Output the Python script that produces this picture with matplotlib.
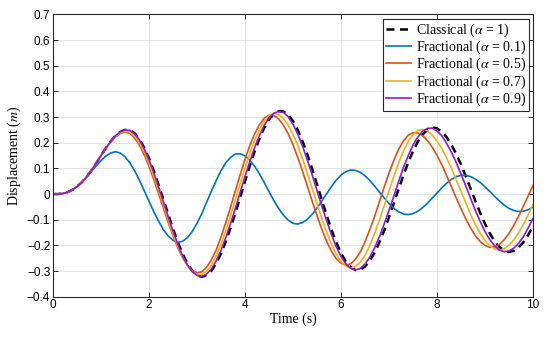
import numpy as np
import matplotlib
matplotlib.use('Agg')
import matplotlib.pyplot as plt

plt.rcParams['mathtext.fontset'] = 'stix'

# sample times (s)
t = np.linspace(0, 10, 101)

classical = [0.000, 0.000, 0.002, 0.007, 0.016, 0.029, 0.046, 0.067, 0.092, 0.120,
             0.150, 0.179, 0.205, 0.227, 0.242, 0.250, 0.249, 0.237, 0.214, 0.180,
             0.139, 0.090, 0.035, -0.022, -0.079, -0.136, -0.187, -0.234, -0.271, -0.299,
             -0.316, -0.323, -0.316, -0.299, -0.270, -0.232, -0.185, -0.131, -0.073, -0.012,
             0.050, 0.110, 0.166, 0.215, 0.258, 0.290, 0.312, 0.323, 0.322, 0.309,
             0.284, 0.249, 0.205, 0.154, 0.098, 0.038, -0.023, -0.082, -0.138, -0.188,
             -0.230, -0.263, -0.285, -0.296, -0.295, -0.283, -0.260, -0.228, -0.188, -0.142,
             -0.090, -0.036, 0.019, 0.073, 0.123, 0.167, 0.204, 0.232, 0.250, 0.259,
             0.256, 0.243, 0.222, 0.192, 0.156, 0.115, 0.069, 0.021, -0.027, -0.073,
             -0.116, -0.153, -0.184, -0.206, -0.221, -0.226, -0.221, -0.208, -0.188, -0.160,
             -0.125]

frac_01 = [0.000, 0.000, 0.002, 0.007, 0.016, 0.029, 0.046, 0.066, 0.088, 0.110,
           0.130, 0.148, 0.160, 0.165, 0.160, 0.145, 0.122, 0.091, 0.054, 0.013,
           -0.028, -0.069, -0.106, -0.139, -0.164, -0.180, -0.188, -0.184, -0.170, -0.146,
           -0.114, -0.076, -0.032, 0.011, 0.053, 0.091, 0.122, 0.143, 0.156, 0.157,
           0.149, 0.132, 0.108, 0.079, 0.045, 0.010, -0.025, -0.056, -0.082, -0.102,
           -0.114, -0.117, -0.111, -0.098, -0.079, -0.055, -0.027, 0.001, 0.029, 0.054,
           0.074, 0.087, 0.094, 0.092, 0.085, 0.071, 0.053, 0.031, 0.008, -0.015,
           -0.037, -0.056, -0.069, -0.078, -0.080, -0.076, -0.067, -0.053, -0.036, -0.016,
           0.004, 0.024, 0.042, 0.057, 0.068, 0.073, 0.073, 0.068, 0.058, 0.045,
           0.028, 0.010, -0.009, -0.027, -0.043, -0.056, -0.064, -0.068, -0.067, -0.061,
           -0.051]

frac_05 = [0.000, 0.000, 0.002, 0.007, 0.016, 0.029, 0.046, 0.067, 0.092, 0.120,
           0.149, 0.177, 0.202, 0.222, 0.236, 0.242, 0.236, 0.218, 0.191, 0.153,
           0.108, 0.056, 0.001, -0.055, -0.111, -0.163, -0.210, -0.248, -0.279, -0.298,
           -0.307, -0.303, -0.285, -0.256, -0.217, -0.167, -0.111, -0.050, 0.013, 0.076,
           0.136, 0.189, 0.234, 0.270, 0.295, 0.307, 0.306, 0.293, 0.268, 0.235,
           0.192, 0.142, 0.088, 0.030, -0.028, -0.084, -0.137, -0.184, -0.223, -0.251,
           -0.269, -0.277, -0.272, -0.254, -0.226, -0.186, -0.139, -0.087, -0.030, 0.027,
           0.082, 0.131, 0.174, 0.207, 0.229, 0.239, 0.238, 0.227, 0.209, 0.183,
           0.151, 0.114, 0.072, 0.029, -0.015, -0.057, -0.097, -0.132, -0.163, -0.185,
           -0.200, -0.208, -0.206, -0.196, -0.178, -0.153, -0.122, -0.086, -0.047, -0.007,
           0.034]

frac_07 = [0.000, 0.000, 0.002, 0.007, 0.016, 0.029, 0.046, 0.067, 0.092, 0.120,
           0.150, 0.179, 0.204, 0.225, 0.239, 0.246, 0.242, 0.226, 0.200, 0.165,
           0.120, 0.069, 0.015, -0.043, -0.100, -0.155, -0.203, -0.245, -0.278, -0.302,
           -0.313, -0.313, -0.301, -0.276, -0.240, -0.195, -0.143, -0.084, -0.022, 0.040,
           0.101, 0.158, 0.208, 0.251, 0.284, 0.304, 0.314, 0.310, 0.295, 0.268,
           0.233, 0.188, 0.136, 0.080, 0.021, -0.037, -0.095, -0.148, -0.195, -0.234,
           -0.263, -0.281, -0.289, -0.283, -0.266, -0.239, -0.200, -0.154, -0.101, -0.045,
           0.013, 0.069, 0.121, 0.167, 0.205, 0.232, 0.248, 0.252, 0.246, 0.230,
           0.207, 0.177, 0.141, 0.100, 0.056, 0.010, -0.035, -0.079, -0.119, -0.153,
           -0.181, -0.201, -0.214, -0.218, -0.213, -0.199, -0.179, -0.151, -0.118, -0.080,
           -0.041]

frac_09 = [0.000, 0.000, 0.002, 0.007, 0.016, 0.029, 0.046, 0.067, 0.092, 0.120,
           0.150, 0.179, 0.205, 0.227, 0.242, 0.250, 0.248, 0.235, 0.211, 0.176,
           0.134, 0.083, 0.028, -0.030, -0.088, -0.144, -0.195, -0.241, -0.276, -0.302,
           -0.317, -0.322, -0.312, -0.292, -0.260, -0.219, -0.169, -0.114, -0.055, 0.007,
           0.068, 0.127, 0.181, 0.228, 0.268, 0.297, 0.315, 0.322, 0.318, 0.301,
           0.272, 0.233, 0.186, 0.132, 0.074, 0.014, -0.047, -0.104, -0.158, -0.205,
           -0.243, -0.272, -0.289, -0.296, -0.290, -0.273, -0.246, -0.210, -0.166, -0.116,
           -0.063, -0.009, 0.049, 0.103, 0.149, 0.191, 0.222, 0.245, 0.256, 0.257,
           0.246, 0.227, 0.198, 0.163, 0.123, 0.078, 0.031, -0.017, -0.064, -0.107,
           -0.146, -0.178, -0.202, -0.218, -0.225, -0.222, -0.211, -0.192, -0.166, -0.132,
           -0.095]

labels = [r'Classical ($\alpha$ = 1)',
          r'Fractional ($\alpha$ = 0.1)',
          r'Fractional ($\alpha$ = 0.5)',
          r'Fractional ($\alpha$ = 0.7)',
          r'Fractional ($\alpha$ = 0.9)']

xticks = [0, 2, 4, 6, 8, 10]
yticks = [-0.4, -0.3, -0.2, -0.1, 0, 0.1, 0.2, 0.3, 0.4, 0.5, 0.6, 0.7]
ytick_labels = ['\u22120.4', '\u22120.3', '\u22120.2', '\u22120.1', '0',
                '0.1', '0.2', '0.3', '0.4', '0.5', '0.6', '0.7']

fig = plt.figure(figsize=(5.5, 3.43), dpi=100)
ax = fig.add_axes([0.0964, 0.135, 0.8727, 0.823])

ax.plot(t, classical, color='black', ls=(0, (3.2, 2.2)), lw=1.8, label=labels[0])
ax.plot(t, frac_01, color='#0072BD', lw=1.2, label=labels[1])
ax.plot(t, frac_05, color='#D95319', lw=1.2, label=labels[2])
ax.plot(t, frac_07, color='#EDB120', lw=1.2, label=labels[3])
ax.plot(t, frac_09, color='#8A1AD6', lw=1.2, label=labels[4])

ax.set_xlim(0, 10)
ax.set_ylim(-0.4, 0.7)
ax.set_xticks(xticks)
ax.set_xticklabels([str(v) for v in xticks], family='Liberation Sans', fontsize=8.5)
ax.set_yticks(yticks)
ax.set_yticklabels(ytick_labels, family='Liberation Sans', fontsize=8.5)
ax.tick_params(direction='in', top=True, right=True, length=3.5, width=0.7,
               color='#262626', pad=2)
ax.grid(True, color='#e3e3e3', lw=0.7)
ax.set_axisbelow(True)
for s in ax.spines.values():
    s.set_color('#262626')
    s.set_linewidth(0.8)

ax.set_xlabel('Time (s)', family='Liberation Serif', fontsize=10, labelpad=1)
ax.set_ylabel(r'Displacement ($m$)', family='Liberation Serif', fontsize=10, labelpad=3)

leg = ax.legend(loc='upper right', prop={'family': 'Liberation Serif', 'size': 10},
                frameon=True, fancybox=False, framealpha=1, edgecolor='#262626',
                borderaxespad=0.3, handlelength=1.8, handletextpad=0.35,
                labelspacing=0.0, borderpad=0.2)
leg.get_frame().set_linewidth(0.8)

fig.savefig('out.png', dpi=100)
